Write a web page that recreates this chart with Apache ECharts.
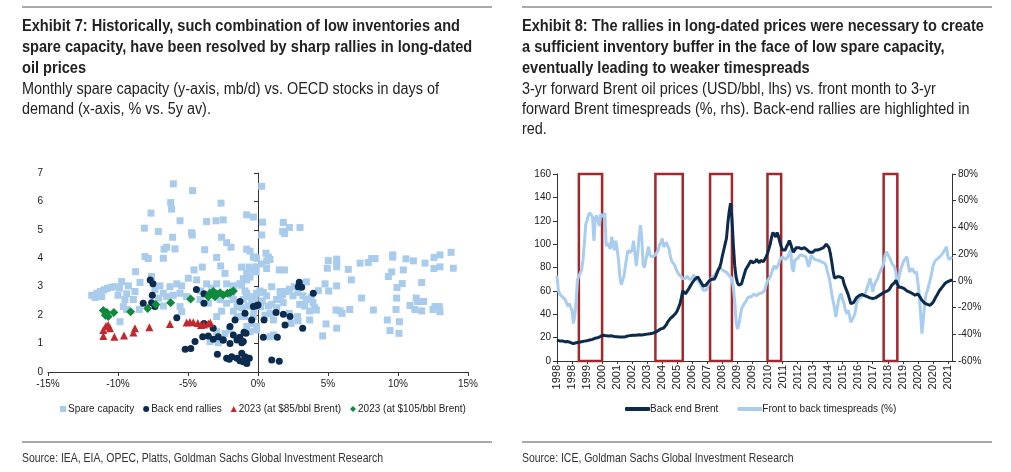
<!DOCTYPE html>
<html>
<head>
    <meta charset="utf-8">
    <title>Exhibit 7 / Exhibit 8</title>
    <script src="https://cdn.jsdelivr.net/npm/echarts@6/dist/echarts.min.js"></script>
    <style>
        html, body { margin: 0; padding: 0; background: #fff; }
        #main { width: 1011px; height: 472px; }
    </style>
</head>
<body>
<div id="main"></div>
<script type="text/javascript">

    // ---------- Exhibit 7: scatter (x = OECD stocks % vs 5y av, y = spare capacity mb/d) ----------
    var spareCapacity = [
        [-6.05, 6.62], [-4.67, 6.38], [-6.24, 5.96], [-6.17, 5.73], [-2.64, 5.94], [-7.64, 5.59], [-5.57, 5.32],
        [-3.67, 5.29], [-3, 5.32], [-2.48, 5.35], [-0.81, 5.53], [-0.33, 5.45], [-8.12, 5.06], [-7.12, 4.94],
        [-4.74, 4.9], [-4.7, 4.82], [-6.1, 4.74], [-2.6, 4.74], [-2.24, 4.55], [-1.93, 4.39], [-6.71, 4.32],
        [-6.52, 4.39], [-5.93, 4.33], [-3.81, 4.3], [-0.81, 4.32], [-8.07, 4.06], [-7.84, 3.99], [-6.76, 4.0],
        [-2.95, 4.03], [-0.33, 4.04], [-0.1, 4.0], [-8.74, 3.53], [-4.57, 3.59], [-3.98, 3.69], [-2.67, 3.73],
        [-1.17, 3.69], [-0.64, 3.69], [-0.5, 3.6], [-2.36, 3.47], [-0.81, 3.47], [-7.6, 3.36], [-9.74, 3.18],
        [-9.26, 3.03], [-8.43, 3.15], [-7, 3.03], [-6.29, 3.0], [-5.8, 3.1], [-5.45, 3.03], [-4.98, 3.3],
        [-4.38, 3.24], [-3.67, 3.1], [-2.95, 3.1], [-2.24, 3.1], [-1.76, 3.03], [-1.29, 3.1], [-0.81, 3.24],
        [-0.57, 3.34], [-11.88, 2.7], [-11.5, 2.77], [-11.26, 2.83], [-11.0, 2.89], [-10.76, 2.94], [-10.5, 2.98],
        [-10.24, 3.0], [-11.64, 2.62], [-11.17, 2.65], [-9.38, 2.75], [-8.79, 2.83], [-9.5, 2.55], [-9.62, 2.3],
        [-9.38, 2.2], [-8.9, 2.55], [-8.48, 2.2], [-6.76, 2.77], [-6.52, 2.65], [-6.05, 2.7], [-5.57, 2.77],
        [-5.1, 2.65], [-6.76, 2.32], [-5.57, 2.3], [-5.45, 2.12], [-9.86, 1.77], [-4.14, 2.55], [-3.55, 2.42],
        [-2.71, 2.55], [-2.24, 2.42], [-1.76, 2.55], [-2.95, 1.95], [-2.6, 2.14], [-1.76, 2.14], [-1.5, 1.95],
        [-1.17, 1.95], [-2.95, 1.42], [-2.36, 1.35], [-2.05, 1.48], [-3.43, 1.07], [-2.84, 1.03], [-0.81, 2.77],
        [-0.57, 2.65], [-0.33, 2.55], [-0.1, 2.77], [-0.33, 1.95], [-0.1, 1.48], [-7.36, 2.9], [-7.1, 2.6],
        [-4.1, 2.85], [-3.3, 2.95], [-1.5, 2.3], [-1.9, 2.7], [-10.0, 2.7], [-9.9, 2.95], [-0.8, 1.6], [-1.4, 1.2],
        [0.26, 6.53], [0.33, 5.27], [0.26, 4.82], [1.81, 5.26], [1.76, 4.94], [1.9, 4.87], [2.24, 5.08], [3, 5.08],
        [-0.57, 4.25], [-0.21, 4.04], [0.57, 4.18], [0.74, 4.04], [0.86, 3.96], [0.62, 3.9], [0.26, 3.8],
        [0.62, 3.64], [-0.14, 3.7], [-0.14, 3.52], [1.52, 3.59], [1.9, 3.59], [5.02, 3.92], [5.62, 3.97],
        [5.62, 3.8], [4.95, 3.65], [5.62, 3.7], [6.45, 3.61], [7.29, 3.83], [7.88, 3.85], [8.12, 3.99],
        [8.36, 3.99], [9.62, 4.12], [9.62, 4.04], [10.57, 3.98], [11.1, 3.91], [11.93, 3.83], [12.57, 4.03],
        [13, 4.12], [13.79, 4.21], [12.57, 3.64], [13, 3.7], [13.95, 3.65], [9.31, 3.36], [9.55, 3.52],
        [10.38, 3.59], [6.67, 3.24], [11.69, 3.15], [10.3, 3.11], [9.93, 2.97], [4.79, 3.1], [5.62, 3.03],
        [4.31, 2.86], [7.4, 2.6], [9.9, 2.6], [11.3, 2.6], [11.4, 2.48], [11.83, 2.48], [10.86, 2.34], [11.2, 2.2],
        [11.69, 2.15], [12.5, 2.2], [12.64, 2.3], [12.95, 2.3], [13, 2.12], [9.86, 2.2], [8.24, 2.18], [5.57, 2.18],
        [5.86, 2.15], [6, 2.06], [6.55, 2.2], [5.62, 1.54], [4.86, 1.69], [4.62, 1.27], [9.24, 1.83], [9.43, 1.46],
        [10.1, 1.77], [10.07, 1.36], [5.05, 2.85], [0.98, 3.0], [1.57, 2.83], [1.76, 2.72], [2.0, 2.83],
        [2.24, 2.91], [2.6, 3.0], [2.5, 2.68], [2.86, 2.8], [3.21, 2.68], [3.45, 2.55], [3.8, 2.62], [3.93, 2.44],
        [4.05, 2.26], [4.17, 2.18], [3.69, 2.15], [3.33, 2.32], [2.98, 2.38], [3.45, 3.17], [1.33, 2.55],
        [0.98, 2.38], [0.62, 2.68], [0.38, 2.8], [0.14, 2.85], [0.74, 2.32], [1.33, 2.26], [1.8, 2.44], [0.5, 2.0],
        [0.86, 2.06], [2.24, 2.06], [2.83, 1.95], [2.36, 1.71], [0.86, 1.24], [1.1, 1.3], [1.1, 1.83], [3.69, 1.83],
        [2.86, 1.8], [-0.93, 2.85], [-0.81, 2.68], [-1.05, 2.55], [-0.45, 2.5], [-0.69, 2.32], [-0.21, 2.62],
        [-1.17, 2.26], [-0.93, 1.95], [-0.45, 1.71], [-0.1, 1.6], [-0.57, 1.42], [-1.05, 3.28], [-0.7, 3.34],
        [-1.17, 3.05], [0.3, 2.5], [1.6, 2.6], [-0.3, 2.2], [0.2, 2.3]
    ];
    var backEndRallies = [
        [-7.7, 3.24], [-7.5, 3.1], [-7.55, 2.7], [-7.6, 2.44], [-8.2, 2.42], [-7.36, 2.3], [-4.4, 2.9],
        [-3.86, 2.75], [-3.86, 2.42], [-5.8, 1.91], [-3.86, 1.71], [-3.2, 1.54], [-3.95, 1.24], [-3.55, 1.27],
        [-4.5, 1.07], [-5.2, 0.8], [-4.8, 0.83], [-3.2, 1.15], [-2.84, 1.24], [-2.5, 1.13], [-2.9, 0.62],
        [-2.0, 1.6], [-1.76, 1.3], [-2.0, 1.0], [-1.64, 1.83], [-1.29, 2.48], [-0.93, 2.07], [-1.5, 1.13],
        [-1.16, 1.03], [-0.86, 1.36], [-0.33, 2.3], [-0.1, 2.33], [-0.45, 1.83], [0.43, 1.83], [-1.0, 1.4],
        [-1.05, 1.07], [0.38, 1.22], [1.38, 1.22], [-2.24, 0.48], [-1.88, 0.54], [-1.5, 0.48], [-1.29, 0.4],
        [-0.93, 0.54], [-0.7, 0.48], [-1.05, 0.36], [-0.8, 0.3], [-1.16, 0.66], [-0.62, 0.48], [-2.05, 0.45],
        [0.98, 0.42], [1.52, 0.38], [1.29, 2.09], [1.81, 2.03], [2.29, 1.95], [1.93, 1.65], [3.19, 1.54],
        [2.95, 3.16], [2.88, 3.0], [3.12, 2.98], [3.95, 2.77], [0, 2.36], [-2.48, 1.13], [-1.29, 1.22]
    ];
    var at85 = [
        [-11.05, 1.48], [-10.86, 1.62], [-10.57, 1.54], [-10.7, 1.65], [-11.05, 1.27], [-10.26, 1.24],
        [-9.57, 1.28], [-8.9, 1.39], [-8.79, 1.54], [-7.76, 1.57], [-6.29, 1.69], [-5.1, 1.74], [-4.86, 1.76],
        [-4.62, 1.75], [-4.3, 1.72], [-4.07, 1.65], [-3.86, 1.67], [-3.55, 1.71], [-3.4, 1.73]
    ];
    var at105 = [
        [-11.05, 2.16], [-10.8, 2.09], [-10.7, 1.95], [-10.3, 2.09], [-10.9, 2.0], [-9.1, 2.12], [-7.88, 2.23],
        [-7.29, 2.37], [-6.24, 2.44], [-4.81, 2.57], [-3.55, 2.65], [-3.43, 2.77], [-3.19, 2.83], [-2.95, 2.74],
        [-3.07, 2.65], [-2.71, 2.79], [-2.48, 2.71], [-2.19, 2.77], [-2.0, 2.79], [-1.76, 2.85]
    ];

    // ---------- Exhibit 8: monthly lines, Jan 1998 - Feb 2022 ----------
    var months = [];
    for (var yr = 1998; yr <= 2022; yr++) {
        for (var mo = 1; mo <= 12; mo++) {
            if (months.length < 290) months.push(yr + '-' + (mo < 10 ? '0' + mo : mo));
        }
    }
    // 3-yr forward Brent, USD/bbl (lhs)
    var backEndBrent = [
        17.7, 17.5, 17.2, 17, 17.2, 16.8, 16.5, 16.8, 16.6, 16.2, 15.8, 15.2,      // 1998
        14.8, 15, 15.6, 15.8, 16, 16.2, 16.5, 16.8, 17, 17.2, 17.4, 17.6,          // 1999
        18, 18.2, 18.5, 19, 19.5, 19.8, 20, 20.6, 21.2, 21.6, 22, 21.8,            // 2000
        21.5, 21.6, 21.4, 21.3, 21.5, 21.2, 21, 21, 20.8, 20.5, 20.6, 20.4,        // 2001
        20.5, 20.6, 20.8, 21.2, 21.5, 21.6, 21.8, 22, 22, 22.2, 22, 22.2,          // 2002
        22.4, 22.5, 22.3, 22.5, 22.6, 22.8, 23, 23.2, 23.4, 23.6, 23.8, 24.2,      // 2003
        24.6, 25.2, 26, 26.5, 27.5, 28, 28.2, 29.5, 31, 33.5, 35, 36.5,            // 2004
        37, 38.5, 40, 41, 43, 46, 49, 54, 60, 59, 57.5, 58,                        // 2005
        61, 63, 65, 67, 68, 70, 71.5, 72, 70, 68, 66, 64,                          // 2006
        63, 65, 66, 68, 69.5, 70, 68.5, 70, 72, 75, 78, 80,                        // 2007
        84, 90, 95, 100, 105, 118, 128, 135, 122, 100, 82, 72,                     // 2008
        67, 65, 64, 66, 70, 74, 78, 80, 82, 84, 86, 84,                            // 2009
        83, 85, 87, 86, 84, 86, 87, 85, 86, 89, 92, 96,                            // 2010
        100, 106, 110, 108, 106, 110, 107, 102, 98, 95, 96, 95,                    // 2011
        98, 100, 103, 100, 96, 93, 95, 97, 97, 97, 96, 96,                         // 2012
        96, 97, 96, 95, 94, 93, 93, 93, 94, 95, 95, 95,                            // 2013
        95, 96, 97, 97, 98, 100, 99, 97, 92, 85, 77, 71,                           // 2014
        70, 72, 73, 72, 72, 71, 66, 63, 60, 57, 53, 49,                            // 2015
        48, 50, 52, 54, 55, 56, 57, 57, 57, 56, 55, 55,                            // 2016
        55, 54, 54, 53.5, 53.4, 54, 55, 55.5, 56, 57, 57.7, 58.5,                  // 2017
        59, 59.5, 60, 61, 63, 65, 66, 67, 69, 66, 63, 62,                          // 2018
        63, 63.5, 62, 61, 60, 59.5, 59, 58, 57.7, 57, 56.3, 57,                    // 2019
        57.5, 56, 54, 52, 50.5, 49.5, 49, 48.5, 48, 47.7, 48.5, 50,                // 2020
        52, 54.5, 56.3, 58.5, 60.6, 62, 63.4, 65, 66.5, 67.7, 68, 68.6,            // 2021
        69, 69                                                                     // 2022
    ];
    // front month to 3-yr forward timespread, % (rhs)
    var timespreads = [
        4, -7, -10, -11, -12, -13, -14, -15, -19, -17, -20, -22,                   // 1998
        -32, -26, -15, 1, 3.5, 4, 8, 15.5, 28, 42, 45.5, 49,                       // 1999
        51, 51.5, 48, 30, 47, 49, 45, 41, 50, 49, 48, 51,                          // 2000
        26, 28, 26, 24, 33, 28, 23, 30, 24, 15.5, 3, -3,                           // 2001
        -2, 4, 10.5, 18, 23, 21, 21, 23, 30, 20, 11, 20,                           // 2002
        32, 41.75, 33, 12, 10, 15.5, 21, 25.5, 19, 18, 18, 18.5,                   // 2003
        19.5, 20.5, 23, 26.75, 29, 31.75, 25.5, 27, 29, 26, 24, 18,                // 2004
        14.5, 13.5, 12, 9, 7, 5, 4.25, 3, 1.5, 0.5, 2, 3.5,                        // 2005
        3, 1, 0.5, 2, 4.25, 3, 1.5, 0.5, -1, -2, -4.5, -7,                         // 2006
        -7, -7, -5, -2, 0.5, 2, 3, 4, 5.5, 6.75, 8.5, 10.5,                        // 2007
        9, 8, 7.5, 6.75, 6.5, 5.5, 4, 3, 1.75, -5, -15, -30,                       // 2008
        -36, -33, -27, -21, -19, -17, -16, -14, -12, -12, -12, -11,                // 2009
        -10, -10.5, -11, -10.5, -9.5, -9, -9, -8.5, -7, -3, 0, 1.5,                // 2010
        3, 6, 9, 11.5, 9, 8, 12, 15.5, 16.5, 18, 17, 16,                           // 2011
        15.5, 18, 21, 23, 10, 6.75, 15.5, 16, 16.75, 18, 19.5, 20.5,               // 2012
        19, 18, 18, 15, 10.5, 14, 19.25, 18, 16.5, 15.5, 15.5, 15.5,               // 2013
        15, 14.5, 14, 13.5, 13, 11, 6, 3, -3, -9.5, -15, -20,                      // 2014
        -27, -21, -14.5, -11, -9.5, -14, -17, -22, -24.5, -22, -26, -31,           // 2015
        -32, -27, -24.5, -18, -14.5, -13, -12, -11.5, -11, -10.5, -8, -5,          // 2016
        -2, 1.75, -2, -8.25, -4, -1, 0.5, 3, 6, 8, 10.5, 13,                       // 2017
        19, 21.75, 20, 18, 16, 13, 12, 10.5, 6, -4.5, 1, 6.75,                     // 2018
        10, 13, 15.5, 16.5, 18, 12, 6.75, 8, 9.25, 7, 5.5, 7,                      // 2019
        8, -9.5, -24, -39.5, -29.5, -17, -10, -7, -3.5, 0.5, 5, 10.5,              // 2020
        13.5, 15.5, 16.5, 17, 18, 19, 20.5, 21.5, 23.5, 25.5, 18, 16,              // 2021
        17, 18                                                                     // 2022
    ];
    // back-end rallies highlighted in red: [from month, to month, box top (lhs)]
    var rallyPeriods = [
        ['1999-05', '2000-10', 161.5],
        ['2004-01', '2005-09', 163],
        ['2007-05', '2008-09', 163],
        ['2010-11', '2011-09', 162.5],
        ['2017-12', '2018-10', 160]
    ];

    var arial = "'Liberation Sans', Arial, sans-serif";
    var navy = '#0c2a4c';
    var sky = '#a9cdee';

    // the report uses a condensed face; squeeze Liberation Sans horizontally to the same width
    var measure = document.createElement('canvas').getContext('2d');
    function squeeze(text, font, width) {
        measure.font = font;
        return width / measure.measureText(text).width;
    }
    var boldFont = 'bold 16px ' + arial;
    var plainFont = '16px ' + arial;
    var srcFont = '13px ' + arial;
    var sBold = squeeze('Exhibit 7: Historically, such combination of low inventories and', boldFont, 438);
    var sPlain = squeeze('Monthly spare capacity (y-axis, mb/d) vs. OECD stocks in days of', plainFont, 417);
    var sSrc = squeeze('Source: IEA, EIA, OPEC, Platts, Goldman Sachs Global Investment Research', srcFont, 361);

    function textBlock(x, y, text, font, lineHeight, scale, color) {
        return {
            type: 'text', x: x, y: y, scaleX: scale, silent: true,
            style: {text: text, font: font, lineHeight: lineHeight, fill: color, verticalAlign: 'top', align: 'left'}
        };
    }

    var myChart = echarts.init(document.getElementById('main'));

    var axisText = {color: '#1a1a1a', fontSize: 10, fontFamily: arial};
    var axisLine = {lineStyle: {color: '#333', width: 1}};

    var option = {
        backgroundColor: '#fff',
        animation: false,
        graphic: [
            {type: 'line', shape: {x1: 22, y1: 7, x2: 492, y2: 7}, style: {stroke: '#555', lineWidth: 1}},
            {type: 'line', shape: {x1: 522, y1: 7, x2: 992, y2: 7}, style: {stroke: '#555', lineWidth: 1}},
            {type: 'line', shape: {x1: 22, y1: 442, x2: 492, y2: 442}, style: {stroke: '#555', lineWidth: 1}},
            {type: 'line', shape: {x1: 522, y1: 442, x2: 992, y2: 442}, style: {stroke: '#555', lineWidth: 1}},
            textBlock(22, 16, 'Exhibit 7: Historically, such combination of low inventories and\nspare capacity, have been resolved by sharp rallies in long-dated\noil prices', boldFont, 21, sBold, '#222'),
            textBlock(22, 80, 'Monthly spare capacity (y-axis, mb/d) vs. OECD stocks in days of\ndemand (x-axis, % vs. 5y av).', plainFont, 20, sPlain, '#222'),
            textBlock(522, 16, 'Exhibit 8: The rallies in long-dated prices were necessary to create\na sufficient inventory buffer in the face of low spare capacity,\neventually leading to weaker timespreads', boldFont, 21, sBold, '#222'),
            textBlock(522, 80, '3-yr forward Brent oil prices (USD/bbl, lhs) vs. front month to 3-yr\nforward Brent timespreads (%, rhs). Back-end rallies are highlighted in\nred.', plainFont, 20, sPlain, '#222'),
            textBlock(22, 451, 'Source: IEA, EIA, OPEC, Platts, Goldman Sachs Global Investment Research', srcFont, 14, sSrc, '#333'),
            textBlock(522, 451, 'Source: ICE, Goldman Sachs Global Investment Research', srcFont, 14, sSrc, '#333')
        ],
        legend: [{
            left: 55, top: 399, itemWidth: 6, itemHeight: 6, itemGap: 9,
            textStyle: {fontFamily: arial, fontSize: 10, color: '#222', padding: [0, 0, 0, -3]},
            data: ['Spare capacity', 'Back end rallies', '2023 (at $85/bbl Brent)', '2023 (at $105/bbl Brent)']
        }, {
            left: 620, top: 399, itemWidth: 25, itemHeight: 4, itemGap: 19, icon: 'roundRect',
            textStyle: {fontFamily: arial, fontSize: 10, color: '#222', padding: [0, 0, 0, -5]},
            data: ['Back end Brent', 'Front to back timespreads (%)']
        }],
        grid: [
            {left: 48, right: 543, top: 173, bottom: 100},
            {left: 557, right: 59, top: 174, bottom: 111}
        ],
        xAxis: [{
            gridIndex: 0, type: 'value', min: -15, max: 15, interval: 5,
            axisLine: axisLine, axisTick: {show: true, length: 4, lineStyle: {color: '#333'}},
            axisLabel: Object.assign({formatter: '{value}%', margin: 7}, axisText),
            splitLine: {show: false}
        }, {
            gridIndex: 1, type: 'category', data: months, boundaryGap: false,
            axisLine: axisLine,
            axisTick: {show: true, interval: 10, length: 3, lineStyle: {color: '#333'}},
            axisLabel: Object.assign({}, axisText, {
                interval: 10, rotate: 90, margin: 4, fontSize: 11,
                formatter: function (v) { return v.slice(0, 4); }
            }),
            splitLine: {show: false}
        }],
        yAxis: [{
            gridIndex: 0, type: 'value', min: 0, max: 7, interval: 1,
            axisLine: Object.assign({show: true, onZero: true}, axisLine),
            axisTick: {show: true, length: 4, lineStyle: {color: '#333'}},
            axisLabel: Object.assign({margin: 5}, axisText),
            splitLine: {show: false}
        }, {
            gridIndex: 1, type: 'value', min: 0, max: 160, interval: 20, position: 'left',
            axisLine: {show: true, lineStyle: {color: '#333'}},
            axisTick: {show: true, length: 4, lineStyle: {color: '#333'}},
            axisLabel: Object.assign({margin: 6}, axisText),
            splitLine: {show: false}
        }, {
            gridIndex: 1, type: 'value', min: -60, max: 80, interval: 20, position: 'right',
            axisLine: {show: true, lineStyle: {color: '#333'}},
            axisTick: {show: true, length: 4, lineStyle: {color: '#333'}},
            axisLabel: Object.assign({formatter: '{value}%', margin: 6}, axisText),
            splitLine: {show: false}
        }],
        series: [{
            name: 'Spare capacity', type: 'scatter', xAxisIndex: 0, yAxisIndex: 0,
            symbol: 'rect', symbolSize: 7, itemStyle: {color: '#a9cbec', opacity: 1},
            data: spareCapacity
        }, {
            name: 'Back end rallies', type: 'scatter', xAxisIndex: 0, yAxisIndex: 0,
            symbol: 'circle', symbolSize: 7, itemStyle: {color: '#0b2b4f', opacity: 1},
            data: backEndRallies
        }, {
            name: '2023 (at $85/bbl Brent)', type: 'scatter', xAxisIndex: 0, yAxisIndex: 0,
            symbol: 'triangle', symbolSize: 8, itemStyle: {color: '#c3272e', opacity: 1},
            data: at85
        }, {
            name: '2023 (at $105/bbl Brent)', type: 'scatter', xAxisIndex: 0, yAxisIndex: 0,
            symbol: 'diamond', symbolSize: 9, itemStyle: {color: '#0f8a3c', opacity: 1},
            data: at105
        }, {
            name: 'Front to back timespreads (%)', type: 'line', xAxisIndex: 1, yAxisIndex: 2,
            showSymbol: false, symbol: 'none', lineStyle: {color: sky, width: 3}, itemStyle: {color: sky},
            data: timespreads
        }, {
            name: 'Back end Brent', type: 'line', xAxisIndex: 1, yAxisIndex: 1,
            showSymbol: false, symbol: 'none', clip: false,
            lineStyle: {color: navy, width: 3}, itemStyle: {color: navy},
            data: backEndBrent,
            markArea: {
                silent: true,
                itemStyle: {color: 'rgba(0,0,0,0)', borderColor: '#a3282c', borderWidth: 2.5},
                data: rallyPeriods.map(function (p) {
                    return [{xAxis: p[0], yAxis: -1.5}, {xAxis: p[1], yAxis: p[2]}];
                })
            }
        }]
    };

    myChart.setOption(option);
</script>
</body>
</html>
